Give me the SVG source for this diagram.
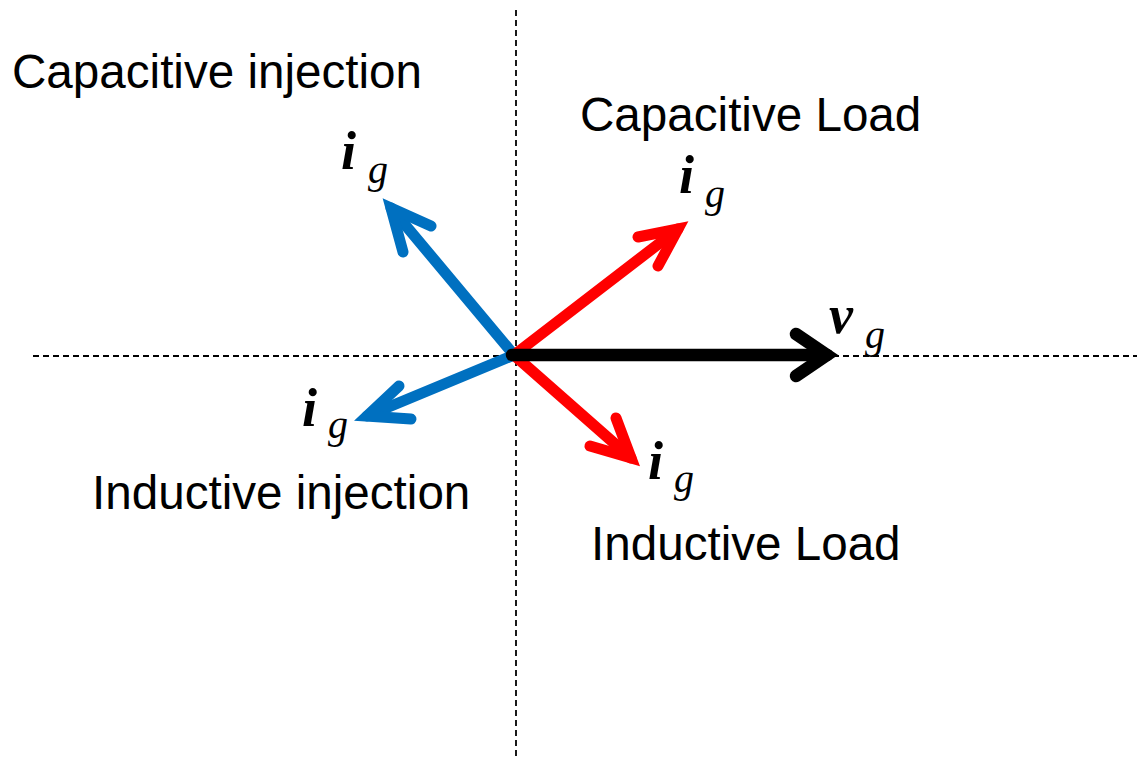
<svg xmlns="http://www.w3.org/2000/svg" width="1137" height="757" viewBox="0 0 1137 757">
<style>
.axis{stroke:#000;stroke-width:1.8;stroke-dasharray:6,4;fill:none}
.lbl{font-family:"Liberation Sans",Arial,sans-serif;font-size:47.6px;fill:#000}
.sym{font-family:"Liberation Serif","Times New Roman",serif;font-style:italic;fill:#000}
.i{font-size:54px;font-weight:bold}
.g{font-size:40px}
.arr{fill:none;stroke-width:11;stroke-linecap:round;stroke-linejoin:miter;stroke-miterlimit:10}
.blue{stroke:#0070C0}
.red{stroke:#FF0000}
.black{stroke:#000;stroke-width:12.5}
</style>
<rect width="1137" height="757" fill="#fff"/>
<g id="axes">
<line class="axis" x1="516" y1="10" x2="516" y2="757"/>
<line class="axis" x1="33" y1="356" x2="1137" y2="356"/>
</g>
<g id="connectors">
<g id="ig-cap-inj">
<line class="arr blue" x1="514" y1="355" x2="391" y2="208" stroke-linecap="butt"/>
<polyline class="arr blue" points="431,226 391,208 403,252"/>
</g>
<g id="ig-ind-inj">
<line class="arr blue" x1="514" y1="355" x2="367" y2="416" stroke-linecap="butt"/>
<polyline class="arr blue" points="399,386 367,416 411,419"/>
</g>
<g id="ig-cap-load">
<line class="arr red" x1="514" y1="355" x2="678" y2="229" stroke-linecap="butt"/>
<polyline class="arr red" points="638,237 678,229 658,266"/>
</g>
<g id="ig-ind-load">
<line class="arr red" x1="514" y1="355" x2="631" y2="458" stroke-linecap="butt"/>
<polyline class="arr red" points="590,446 631,458 616,418"/>
</g>
<g id="vg">
<line class="arr black" x1="512" y1="355" x2="827" y2="355" stroke-linecap="butt"/>
<polyline class="arr black" points="796,334 827,355 796,376"/>
</g>
</g>
<g id="label-cap-inj"><text class="lbl" x="12" y="88">Capacitive injection</text></g>
<g id="label-cap-load"><text class="lbl" x="580" y="131">Capacitive Load</text></g>
<g id="label-ind-inj"><text class="lbl" x="92" y="509">Inductive injection</text></g>
<g id="label-ind-load"><text class="lbl" x="591" y="560">Inductive Load</text></g>
<g id="sym-ig-1"><text class="sym i" x="341" y="169">i</text><text class="sym g" x="368" y="183">g</text></g>
<g id="sym-ig-2"><text class="sym i" x="679" y="193">i</text><text class="sym g" x="705" y="207">g</text></g>
<g id="sym-vg"><text class="sym i" x="829" y="333">v</text><text class="sym g" x="865" y="348">g</text></g>
<g id="sym-ig-3"><text class="sym i" x="302" y="426">i</text><text class="sym g" x="328" y="438">g</text></g>
<g id="sym-ig-4"><text class="sym i" x="648" y="479">i</text><text class="sym g" x="674" y="492">g</text></g>
</svg>
